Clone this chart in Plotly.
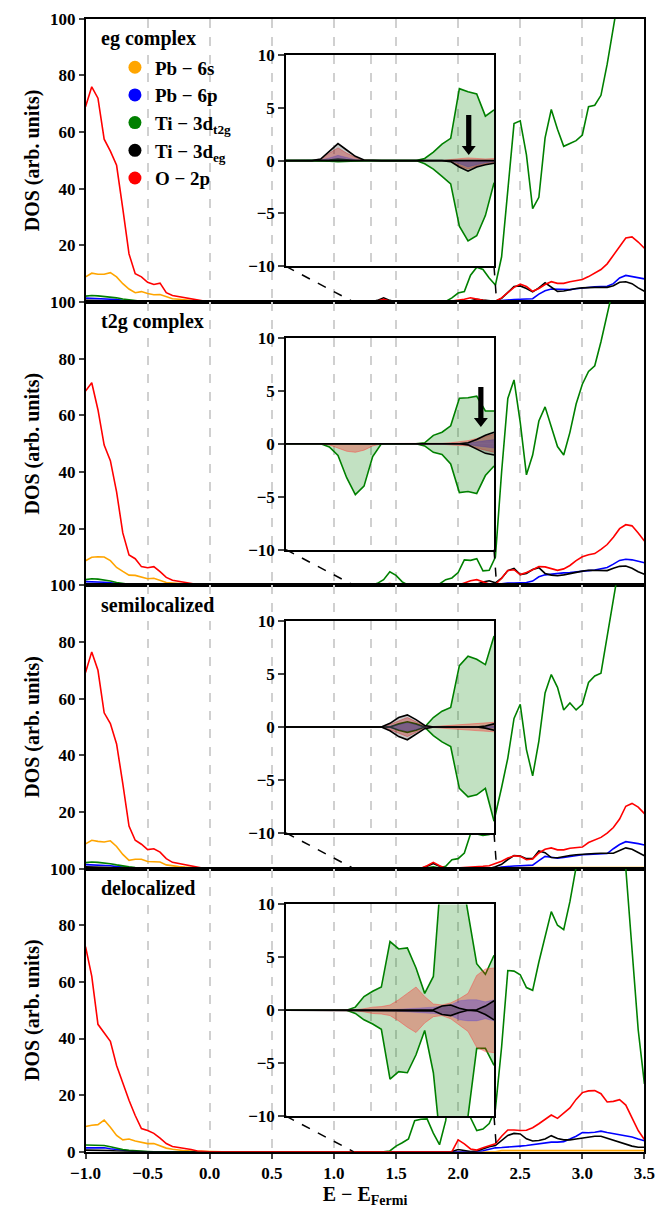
import plotly.graph_objects as go

# ---------------- data ----------------
E = [round(-1.0 + 0.05 * i, 2) for i in range(91)]      # main energy grid
EI = [round(1.1 + 0.05 * i, 2) for i in range(25)]      # inset energy grid

MID_ZEROS = [0, 0, 0, 0, 0, 0, 0, 0, 0, 0, 0, 0, 0, 0, 0, 0, 0, 0, 0, 0]
ORANGE_R = [0, 0, 0, 0, 0, 0, 0, 0, 0, 0, 0, 0, 0, 0, 0, 0, 0, 0, 0, 0, 0, 0, 0, 0, 0, 0,
            0.4, 0.4, 0.4, 0.4, 0.4, 0.4, 0.4, 0.4, 0.4, 0.4, 0.4, 0.4, 0.4, 0.4, 0.4, 0.4,
            0.4, 0.4, 0.4, 0.4, 0.4, 0.4, 0.4, 0.4]

# panel 1 : eg complex
P1_OR_L = [8.9, 10.2, 9.8, 9.8, 10.4, 8.9, 6.5, 4.6, 3.3, 3.7, 3.0, 2.6, 2.7, 2.0, 1.2, 1.0, 0.8, 0.6, 0.3, 0.1, 0]
P1_BL_L = [1.4, 1.3, 1.2, 1.3, 1.2, 0.9, 0.6, 0.4, 0.2, 0.1, 0, 0, 0, 0, 0, 0, 0, 0, 0, 0, 0]
P1_GR_L = [2.1, 2.3, 2.2, 2.0, 1.8, 1.5, 1.1, 0.8, 0.5, 0.3, 0.2, 0.1, 0, 0, 0, 0, 0, 0, 0, 0, 0]
P1_BK_L = [0.6, 0.6, 0.5, 0.5, 0.4, 0.3, 0.2, 0.1, 0, 0, 0, 0, 0, 0, 0, 0, 0, 0, 0, 0, 0]
P1_RD_L = [69, 76, 72, 57.5, 53.3, 48.3, 33, 17, 10, 8.9, 7, 6.2, 6.7, 3.3, 2.3, 1.9, 1.6, 1.2, 0.6, 0.2, 0]
P1_BL_R = [0, 0, 0, 0, 0, 0, 0, 0, 0, 0, 0, 0, 0, 0, 0, 0, 0, 0, 0, 0, 0, 0, 0, 0, 0,
           0.2, 0.5, 0.8, 0.9, 1.0, 1.1, 1.2, 2.8, 4.0, 4.6, 4.6, 4.4, 4.4, 4.7, 5.0, 5.2, 5.4, 5.5, 5.6,
           6.5, 8.5, 9.4, 9.0, 8.5, 8.2]
P1_GR_R = [0, 0, 0, 0, 0, 0, 0, 0.5, 0.2, 0, 0, 0, 0, 0, 0, 0, 0,
           0.2, 1.5, 3.2, 3.7, 9.5, 12.3, 11.5, 8.5, 6,
           16, 39, 63, 64, 52, 33, 37, 58, 68, 61, 55, 56, 57, 59, 69, 69.5, 73, 84, 98, 110, 120, 125, 125, 120]
P1_BK_R = [0, 0, 0, 0, 0, 0, 0.6, 1.5, 0.6, 0, 0, 0, 0, 0, 0, 0, 0, 0, 0, 0, 0, 0.5, 1.0, 0.7, 0.4,
           0.3, 1.3, 3.5, 5.5, 5.7, 4.8, 3.6, 5.0, 6.8, 5.3, 3.8, 3.9, 4.4, 4.8, 5.0, 5.2, 5.2, 5.2, 5.2,
           5.8, 7.0, 7.2, 6.5, 5.0, 3.8]
P1_RD_R = [0, 0, 0, 0, 0, 0, 0.4, 1.0, 0.4, 0, 0, 0, 0, 0, 0, 0, 0, 0, 0.4, 0.6, 1.0, 1.5, 1.0, 0.6, 0.4,
           0.3, 1.5, 3.5, 5.2, 6.3, 5.5, 3.8, 4.8, 6.2, 7.2, 6.6, 6.6, 7.2, 7.5, 8.0, 9.0, 10.2, 11.5, 13.5,
           16.5, 19.5, 22.6, 23, 21.2, 19]

# panel 2 : t2g complex
P2_OR_L = [8.7, 9.9, 10.1, 10.0, 8.7, 6.3, 4.9, 3.6, 3.5, 3.0, 2.3, 2.5, 1.8, 1.0, 0.8, 0.6, 0.5, 0.3, 0.2, 0.1, 0]
P2_BL_L = [1.3, 1.3, 1.2, 1.1, 0.9, 0.6, 0.4, 0.2, 0.1, 0, 0, 0, 0, 0, 0, 0, 0, 0, 0, 0, 0]
P2_GR_L = [2.0, 2.3, 2.2, 1.9, 1.5, 1.0, 0.6, 0.4, 0.2, 0.1, 0, 0, 0, 0, 0, 0, 0, 0, 0, 0, 0]
P2_BK_L = [0.5, 0.5, 0.5, 0.4, 0.3, 0.2, 0.1, 0, 0, 0, 0, 0, 0, 0, 0, 0, 0, 0, 0, 0, 0]
P2_RD_L = [68.6, 71.5, 62, 49.5, 44, 33, 18.5, 10.7, 9.4, 6.6, 6.2, 6.6, 4.8, 2.8, 1.8, 1.4, 1.0, 0.6, 0.3, 0.1, 0]
P2_BL_R = [0, 0, 0, 0, 0, 0, 0, 0, 0, 0, 0, 0, 0, 0, 0, 0, 0, 0, 0, 0, 0, 0, 0, 0, 0,
           0.1, 0.5, 0.8, 0.8, 0.9, 1.0, 1.5, 3.0, 3.7, 4.0, 4.3, 4.4, 4.5, 4.8, 5.0, 5.2, 5.4, 5.8, 6.3,
           7.5, 8.8, 9.2, 9.0, 8.5, 8.0]
P2_GR_R = [0, 0, 0, 0, 0, 0, 0.7, 2.0, 4.8, 3.5, 1.2, 0, 0, 0, 0, 0, 0.5,
           2.0, 2.6, 4.5, 9.0, 8.8, 9.4, 5.1, 5.3, 10,
           40, 66, 72.5, 57.5, 39, 46, 58, 63, 56, 49, 46, 54, 64, 71, 75.5, 77.5, 86, 96, 106, 115, 122, 128, 130, 130]
P2_BK_R = [0, 0, 0, 0, 0, 0, 0, 0.3, 0.5, 0.2, 0, 0, 0, 0, 0, 0, 0, 0, 0, 0, 0, 0.1, 0.4, 1.2, 1.6,
           0.9, 2.5, 5.2, 6.0, 3.8, 4.2, 5.6, 6.2, 4.2, 3.6, 3.4, 3.7, 4.2, 4.6, 5.0, 5.3, 5.3, 5.1, 5.2,
           6.0, 6.7, 6.8, 6.0, 4.8, 3.9]
P2_RD_R = [0, 0, 0, 0, 0, 0, 0, 0.4, 0.6, 0.4, 0.2, 0, 0, 0, 0, 0, 0, 0, 0, 0, 0.8, 1.6, 2.0, 1.2, 0.5,
           0.3, 2.5, 5.2, 5.5, 3.8, 4.5, 5.5, 6.6, 6.5, 6.0, 5.3, 5.8, 7.0, 8.7, 10.1, 10.8, 11.2, 12.7, 14.4,
           17, 20, 21.4, 21, 18.5, 15.6]

# panel 3 : semilocalized
P3_OR_L = [8.7, 10.0, 9.6, 9.4, 9.8, 7.8, 5.0, 2.9, 3.3, 3.3, 2.5, 2.4, 2.3, 1.3, 0.9, 0.7, 0.5, 0.3, 0.2, 0.1, 0]
P3_BL_L = [1.4, 1.3, 1.2, 1.2, 1.0, 0.7, 0.5, 0.3, 0.1, 0, 0, 0, 0, 0, 0, 0, 0, 0, 0, 0, 0]
P3_GR_L = [2.1, 2.3, 2.2, 2.0, 1.7, 1.3, 0.9, 0.6, 0.4, 0.2, 0.1, 0, 0, 0, 0, 0, 0, 0, 0, 0, 0]
P3_BK_L = [0.6, 0.6, 0.5, 0.5, 0.4, 0.3, 0.2, 0.1, 0, 0, 0, 0, 0, 0, 0, 0, 0, 0, 0, 0, 0]
P3_RD_L = [69.2, 76.5, 70, 55, 51.2, 44, 30, 15, 10, 8.6, 6.7, 7.0, 5.8, 3.5, 2.2, 1.8, 1.4, 0.9, 0.4, 0.1, 0]
P3_BL_R = [0, 0, 0, 0, 0, 0, 0, 0, 0, 0, 0, 0, 0, 0, 0, 0, 0, 0, 0, 0, 0, 0, 0, 0, 0,
           0.1, 0.5, 0.8, 0.9, 1.0, 1.1, 1.2, 2.8, 4.3, 4.0, 3.7, 3.9, 4.3, 4.7, 4.9, 5.0, 5.1, 5.2, 5.3,
           7.0, 8.5, 9.5, 9.2, 8.8, 8.3]
P3_GR_R = [0, 0, 0, 0, 0, 0, 0, 0, 0, 0, 0, 0, 0, 0, 0.3, 0.6, 0.2,
           0.8, 3.1, 3.5, 5.5, 12.3, 12.2, 11.7, 12, 19,
           28.6, 39, 53, 58, 42, 32.7, 45, 62, 68.5, 64, 56, 58.5, 56, 58, 65.7, 68, 69, 83, 96, 108, 118, 125, 128, 128]
P3_BK_R = [0, 0, 0, 0, 0, 0, 0, 0, 0, 0, 0, 0, 0, 0, 0.8, 1.8, 0.8, 0.1, 0, 0, 0, 0, 0, 0, 0,
           0.6, 1.5, 3.2, 4.6, 4.4, 3.5, 3.5, 6.2, 5.6, 3.9, 3.8, 4.3, 4.6, 4.9, 5.1, 5.2, 5.3, 5.4, 5.4,
           5.4, 6.4, 7.3, 6.8, 5.6, 4.5]
P3_RD_R = [0, 0, 0, 0, 0, 0, 0, 0, 0, 0, 0, 0, 0, 0.1, 1.0, 2.2, 1.0, 0.1, 0.1, 0.2, 0.3, 0.5, 0.6, 0.8, 1.0,
           1.7, 2.6, 3.7, 4.5, 4.3, 3.1, 3.4, 5.5, 6.8, 7.3, 6.6, 6.6, 7.2, 7.3, 7.6, 9.2, 10, 11, 12.5,
           14.5, 17.5, 22, 23, 21.7, 19.4]

# panel 4 : delocalized
P4_OR_L = [8.9, 9.4, 9.6, 11.2, 8.7, 5.8, 4.2, 4.5, 3.8, 3.3, 2.9, 2.9, 2.0, 1.3, 0.9, 0.6, 0.4, 0.3, 0.2, 0.1, 0]
P4_BL_L = [1.4, 1.4, 1.4, 1.4, 1.1, 0.8, 0.5, 0.3, 0.1, 0, 0, 0, 0, 0, 0, 0, 0, 0, 0, 0, 0]
P4_GR_L = [2.4, 2.4, 2.3, 2.2, 1.8, 1.2, 0.8, 0.5, 0.3, 0.2, 0.1, 0, 0, 0, 0, 0, 0, 0, 0, 0, 0]
P4_BK_L = [0.6, 0.6, 0.5, 0.5, 0.4, 0.3, 0.2, 0.1, 0, 0, 0, 0, 0, 0, 0, 0, 0, 0, 0, 0, 0]
P4_RD_L = [72.4, 62, 45, 42, 39, 30.5, 24, 18.2, 12.8, 8.2, 7.5, 6.5, 4.8, 2.9, 1.9, 1.6, 1.3, 0.8, 0.3, 0.1, 0]
P4_BL_R = [0, 0, 0, 0, 0, 0, 0, 0, 0, 0, 0, 0, 0, 0, 0, 0, 0, 0, 0, 0, 0, 0, 0, 0.4, 1.0,
           1.4, 1.5, 1.6, 1.8, 2.0, 2.2, 2.5, 2.9, 3.3, 3.4, 3.4, 3.6, 4.5, 5.5, 6.8, 6.7, 6.9, 7.3, 6.8,
           6.4, 6.1, 5.8, 5.2, 4.5, 3.9]
P4_GR_R = [0, 0, 0, 0, 0, 0, 0, 0,
           0.3, 2.0, 3.2, 4.5, 11, 11.5, 11.6, 6.6, 2.5, 11, 30, 40, 30, 12, 7.5, 8.0, 10, 15,
           37, 64, 63.8, 62.5, 58, 57, 67, 76, 84.8, 80, 78.4, 88.3, 102, 115, 125, 130, 130, 125, 118, 110,
           100, 70, 43, 24]
P4_BK_R = [0, 0, 0, 0, 0, 0, 0, 0, 0, 0, 0, 0, 0, 0, 0, 0, 0, 0, 0.1, 0.8, 0.4, 0.1, 0.3, 1.0, 1.8,
           2.2, 4.0, 5.8, 6.5, 6.3, 4.6, 3.8, 4.0, 4.5, 5.7, 4.7, 4.2, 4.2, 4.5, 4.9, 5.1, 5.5, 5.5, 4.8,
           4.2, 3.3, 2.6, 2.0, 1.6, 1.6]
P4_RD_R = [0, 0, 0, 0, 0, 0, 0, 0, 0, 0, 0, 0, 0, 0, 0, 0.2, 0.2, 0.1, 0.1, 4.2, 2.8, 1.0, 0.6, 1.4, 2.1,
           2.8, 5.5, 7.7, 7.7, 7.5, 7.6, 8.5, 9.9, 11.5, 13, 11.8, 13.5, 15.5, 18.5, 20.9, 21.5, 21.6, 20.5,
           17.6, 17.8, 18.4, 16.5, 12, 7.5, 4.3]

# insets: spin up (positive) and spin down (negative) on grid EI
I1_GR_UP = [0, 0, 0, 0, 0, 0.05, 0.15, 0.05, 0, 0, 0, 0, 0, 0, 0, 0, 0.2, 0.8, 1.55, 2.1, 6.8, 6.5, 6.3, 4.2, 4.8]
I1_GR_DN = [0, 0, 0, 0, 0, -0.05, -0.1, -0.05, 0, 0, 0, 0, 0, 0, 0, 0, -0.3, -0.8, -1.5, -2.2, -6.2, -7.6, -7.1, -5.2, -2.1]
I1_RD_UP = [0, 0, 0, 0, 0.1, 0.7, 1.2, 0.7, 0.3, 0.05, 0, 0, 0, 0, 0, 0, 0, 0, 0, 0.1, 0.2, 0.25, 0.2, 0.15, 0.2]
I1_RD_DN = [0, 0, 0, 0, 0, 0, 0, 0, 0, 0, 0, 0, 0, 0, 0, 0, 0, 0, 0, -0.1, -0.5, -0.8, -0.5, -0.3, -0.2]
I1_BL_UP = [0, 0, 0, 0, 0.05, 0.25, 0.5, 0.3, 0.1, 0, 0, 0, 0, 0, 0, 0, 0, 0, 0, 0, 0, 0, 0, 0, 0]
I1_BL_DN = [0, 0, 0, 0, 0, 0, 0, 0, 0, 0, 0, 0, 0, 0, 0, 0, 0, 0, 0, 0, -0.3, -0.6, -0.4, -0.2, -0.1]
I1_BK_UP = [0, 0, 0, 0, 0.15, 0.9, 1.6, 1.0, 0.4, 0.05, 0, 0, 0, 0, 0, 0, 0, 0, 0, 0, 0, 0, 0, 0, 0]
I1_BK_DN = [0, 0, 0, 0, 0, 0, 0, 0, 0, 0, 0, 0, 0, 0, 0, 0, 0, 0, 0, -0.1, -0.6, -1.0, -0.6, -0.4, -0.25]

I2_GR_UP = [0, 0, 0, 0, 0, 0, 0, 0, 0, 0, 0, 0, 0, 0, 0, 0, 0.1, 0.8, 1.1, 1.7, 4.3, 4.35, 4.5, 3.1, 3.1]
I2_GR_DN = [0, 0, 0, 0, 0, -0.3, -1.1, -3.2, -4.8, -4.0, -1.2, 0, 0, 0, 0, 0, -0.2, -0.8, -1.0, -1.9, -4.6, -4.5, -4.7, -3.0, -2.1]
I2_RD_UP = [0, 0, 0, 0, 0, 0, 0, 0, 0, 0, 0, 0, 0, 0, 0, 0, 0, 0, 0.05, 0.1, 0.2, 0.3, 0.5, 0.7, 0.9]
I2_RD_DN = [0, 0, 0, 0, 0, -0.1, -0.4, -0.7, -0.8, -0.6, -0.2, 0, 0, 0, 0, 0, 0, 0, -0.05, -0.1, -0.15, -0.2, -0.4, -0.6, -0.8]
I2_BL_UP = [0, 0, 0, 0, 0, 0, 0, 0, 0, 0, 0, 0, 0, 0, 0, 0, 0, 0, 0, 0, 0, 0.05, 0.2, 0.3, 0.4]
I2_BL_DN = [0, 0, 0, 0, 0, 0, 0, 0, 0, 0, 0, 0, 0, 0, 0, 0, 0, 0, 0, 0, 0, -0.05, -0.2, -0.3, -0.4]
I2_BK_UP = [0, 0, 0, 0, 0, 0, 0, 0, 0, 0, 0, 0, 0, 0, 0, 0, 0, 0, 0, 0, 0, 0.1, 0.4, 0.8, 1.1]
I2_BK_DN = [0, 0, 0, 0, 0, 0, 0, 0, 0, 0, 0, 0, 0, 0, 0, 0, 0, 0, 0, 0, 0, -0.1, -0.5, -0.9, -1.05]

I3_GR_UP = [0, 0, 0, 0, 0, 0, 0, 0, 0, 0, 0, 0, 0, 0.3, 0.5, 0.3, 0, 0.9, 1.5, 1.85, 5.8, 6.7, 6.4, 5.9, 8.6]
I3_GR_DN = [0, 0, 0, 0, 0, 0, 0, 0, 0, 0, 0, 0, 0, -0.3, -0.5, -0.3, 0, -0.8, -1.4, -1.85, -5.8, -6.6, -6.4, -5.8, -8.9]
I3_RD_UP = [0, 0, 0, 0, 0, 0, 0, 0, 0, 0, 0, 0, 0.25, 0.6, 0.9, 0.5, 0.1, 0.05, 0.1, 0.15, 0.2, 0.25, 0.3, 0.35, 0.45]
I3_RD_DN = [0, 0, 0, 0, 0, 0, 0, 0, 0, 0, 0, 0, -0.25, -0.6, -0.9, -0.5, -0.1, -0.05, -0.1, -0.15, -0.2, -0.25, -0.3, -0.35, -0.45]
I3_BL_UP = [0, 0, 0, 0, 0, 0, 0, 0, 0, 0, 0, 0, 0.1, 0.25, 0.4, 0.25, 0.05, 0, 0, 0, 0, 0, 0, 0.05, 0.1]
I3_BL_DN = [0, 0, 0, 0, 0, 0, 0, 0, 0, 0, 0, 0, -0.1, -0.25, -0.4, -0.25, -0.05, 0, 0, 0, 0, 0, 0, -0.05, -0.1]
I3_BK_UP = [0, 0, 0, 0, 0, 0, 0, 0, 0, 0, 0, 0, 0.35, 0.9, 1.15, 0.7, 0.15, 0, 0, 0, 0, 0, 0, 0.1, 0.3]
I3_BK_DN = [0, 0, 0, 0, 0, 0, 0, 0, 0, 0, 0, 0, -0.35, -0.9, -1.2, -0.7, -0.15, 0, 0, 0, 0, 0, 0, -0.1, -0.3]

I4_GR_UP = [0, 0, 0, 0, 0, 0, 0, 0, 0.3, 1.3, 1.8, 2.2, 6.5, 5.8, 5.9, 4.0, 1.6, 3.2, 14, 16, 14, 9, 4.4, 3.4, 5.2]
I4_GR_DN = [0, 0, 0, 0, 0, 0, 0, 0, -0.3, -0.9, -1.3, -1.8, -6.5, -5.8, -5.9, -4.2, -1.9, -5.9, -14, -16, -14, -10, -3.6, -3.6, -5.2]
I4_RD_UP = [0, 0, 0, 0, 0, 0, 0, 0, 0.05, 0.15, 0.3, 0.35, 0.5, 1.0, 1.6, 2.2, 1.3, 0.6, 0.5, 0.7, 1.1, 1.6, 3.3, 3.9, 4.0]
I4_RD_DN = [0, 0, 0, 0, 0, 0, 0, 0, -0.05, -0.15, -0.3, -0.35, -0.5, -1.0, -1.6, -2.1, -1.2, -0.6, -0.5, -0.8, -1.4, -2.0, -3.5, -3.9, -4.0]
I4_BL_UP = [0, 0, 0, 0, 0, 0, 0, 0, 0, 0, 0, 0, 0.05, 0.1, 0.15, 0.2, 0.2, 0.3, 0.4, 0.5, 0.9, 1.0, 1.0, 0.8, 1.0]
I4_BL_DN = [0, 0, 0, 0, 0, 0, 0, 0, 0, 0, 0, 0, -0.05, -0.1, -0.15, -0.2, -0.2, -0.3, -0.4, -0.5, -0.9, -1.0, -1.0, -0.8, -1.0]
I4_BK_UP = [0, 0, 0, 0, 0, 0, 0, 0, 0, 0, 0, 0, 0, 0, 0, 0, 0, 0.05, 0.4, 0.5, 0.2, 0.0, 0.05, 0.4, 0.9]
I4_BK_DN = [0, 0, 0, 0, 0, 0, 0, 0, 0, 0, 0, 0, 0, 0, 0, 0, 0, -0.05, -0.4, -0.5, -0.2, 0.0, -0.05, -0.4, -0.9]

PANEL_TITLES = ["eg complex", "t2g complex", "semilocalized", "delocalized"]
LEGEND_LABELS = ["Pb − 6s", "Pb − 6p", "Ti − 3d<sub>t2g</sub>", "Ti − 3d<sub>eg</sub>", "O − 2p"]
X_TICKS = [-1.0, -0.5, 0.0, 0.5, 1.0, 1.5, 2.0, 2.5, 3.0, 3.5]
Y_TICKS = [0, 20, 40, 60, 80, 100]
Y_TICKS_UPPER = [20, 40, 60, 80, 100]         # the 0 of upper panels sits under the "100" below
INSET_Y_TICKS = [-10, -5, 0, 5, 10]
INSET_GRID_MAIN = [1.0, 1.3, 1.5, 2.0]       # dashed guide lines inside the insets (main-axis x)
CONNECT_END = [1.16, 2.31]                   # where the dashed zoom connectors meet y = 0
ARROW_X = [2.154, 2.224]                     # black arrows in insets 1 and 2
ARROW_TIP = [0.53, 1.6]

MAIN = [
    dict(orange=P1_OR_L + MID_ZEROS + ORANGE_R, blue=P1_BL_L + MID_ZEROS + P1_BL_R,
         green=P1_GR_L + MID_ZEROS + P1_GR_R, black=P1_BK_L + MID_ZEROS + P1_BK_R,
         red=P1_RD_L + MID_ZEROS + P1_RD_R),
    dict(orange=P2_OR_L + MID_ZEROS + ORANGE_R, blue=P2_BL_L + MID_ZEROS + P2_BL_R,
         green=P2_GR_L + MID_ZEROS + P2_GR_R, black=P2_BK_L + MID_ZEROS + P2_BK_R,
         red=P2_RD_L + MID_ZEROS + P2_RD_R),
    dict(orange=P3_OR_L + MID_ZEROS + ORANGE_R, blue=P3_BL_L + MID_ZEROS + P3_BL_R,
         green=P3_GR_L + MID_ZEROS + P3_GR_R, black=P3_BK_L + MID_ZEROS + P3_BK_R,
         red=P3_RD_L + MID_ZEROS + P3_RD_R),
    dict(orange=P4_OR_L + MID_ZEROS + ORANGE_R, blue=P4_BL_L + MID_ZEROS + P4_BL_R,
         green=P4_GR_L + MID_ZEROS + P4_GR_R, black=P4_BK_L + MID_ZEROS + P4_BK_R,
         red=P4_RD_L + MID_ZEROS + P4_RD_R),
]
INSETS = [
    dict(gu=I1_GR_UP, gd=I1_GR_DN, ru=I1_RD_UP, rd=I1_RD_DN, bu=I1_BL_UP, bd=I1_BL_DN, ku=I1_BK_UP, kd=I1_BK_DN),
    dict(gu=I2_GR_UP, gd=I2_GR_DN, ru=I2_RD_UP, rd=I2_RD_DN, bu=I2_BL_UP, bd=I2_BL_DN, ku=I2_BK_UP, kd=I2_BK_DN),
    dict(gu=I3_GR_UP, gd=I3_GR_DN, ru=I3_RD_UP, rd=I3_RD_DN, bu=I3_BL_UP, bd=I3_BL_DN, ku=I3_BK_UP, kd=I3_BK_DN),
    dict(gu=I4_GR_UP, gd=I4_GR_DN, ru=I4_RD_UP, rd=I4_RD_DN, bu=I4_BL_UP, bd=I4_BL_DN, ku=I4_BK_UP, kd=I4_BK_DN),
]

# ---------------- styling / geometry ----------------
FONT = "Liberation Serif"
COLORS = dict(orange="#FFA500", blue="#0000FF", green="#008000", black="#000000", red="#FF0000")
FIG_W, FIG_H = 666, 1212
AX_L, AX_R = 73.4, 655.0
PANEL_TOP, PANEL_H = 10.0, 287.75
IN_L, IN_R = 282.0, 498.5
IN_T, IN_B = 36.5, 251.5
XMIN, XMAX = -1.0, 3.5
IXMIN, IXMAX = 1.1, 2.3
TICK_FS, TITLE_FS, LEG_FS, PANEL_FS = 17, 20, 19, 20


def px_to_main_x(px):
    return XMIN + (px - AX_L) / (AX_R - AX_L) * (XMAX - XMIN)


INSET_MAIN_L = px_to_main_x(IN_L)
INSET_MAIN_R = px_to_main_x(IN_R)
INSET_MAIN_BOTTOM = (PANEL_H - IN_B) / PANEL_H * 100.0
INSET_GRID = [IXMIN + (m - INSET_MAIN_L) / (INSET_MAIN_R - INSET_MAIN_L) * (IXMAX - IXMIN)
              for m in INSET_GRID_MAIN]

fig = go.Figure()
layout = dict(width=FIG_W, height=FIG_H, margin=dict(l=0, r=0, t=0, b=0),
              paper_bgcolor="white", plot_bgcolor="white",
              font=dict(family=FONT, size=TICK_FS, color="black", weight="bold"),
              showlegend=True)
shapes, annotations = [], []


def ax_name(kind, n):
    return kind + ("axis" if n == 1 else "axis%d" % n)


def ref(kind, n):
    return kind if n == 1 else "%s%d" % (kind, n)


for k in range(4):
    top = PANEL_TOP + k * PANEL_H
    bot = top + PANEL_H
    m, ins = k + 1, k + 5
    xm, ym, xi, yi = ref("x", m), ref("y", m), ref("x", ins), ref("y", ins)

    # main traces
    for key in ["orange", "blue", "green", "black", "red"]:
        fig.add_trace(go.Scatter(x=E, y=MAIN[k][key], mode="lines", xaxis=xm, yaxis=ym,
                                 line=dict(color=COLORS[key], width=1.6), showlegend=False,
                                 hoverinfo="skip"))

    # inset traces
    d = INSETS[k]
    fills = [("gu", "rgba(0,128,0,0.24)", dict(color="#008000", width=1.6)),
             ("gd", "rgba(0,128,0,0.24)", dict(color="#008000", width=1.6)),
             ("ru", "rgba(255,0,0,0.28)", dict(color="rgba(255,60,60,0.45)", width=1)),
             ("rd", "rgba(255,0,0,0.28)", dict(color="rgba(255,60,60,0.45)", width=1)),
             ("bu", "rgba(0,0,255,0.25)", dict(color="rgba(0,0,255,0.3)", width=0.5)),
             ("bd", "rgba(0,0,255,0.25)", dict(color="rgba(0,0,255,0.3)", width=0.5)),
             ("ku", "rgba(0,0,0,0.22)", dict(color="#000000", width=1.6)),
             ("kd", "rgba(0,0,0,0.22)", dict(color="#000000", width=1.6))]
    for key, fc, ln in fills:
        fig.add_trace(go.Scatter(x=EI, y=d[key], mode="lines", fill="tozeroy", fillcolor=fc,
                                 line=ln, xaxis=xi, yaxis=yi, showlegend=False, hoverinfo="skip"))

    dom_main_y = [1 - bot / FIG_H, 1 - top / FIG_H]
    dom_in_y = [1 - (top + IN_B) / FIG_H, 1 - (top + IN_T) / FIG_H]

    xax = dict(
        domain=[AX_L / FIG_W, AX_R / FIG_W], range=[XMIN, XMAX], tickvals=X_TICKS,
        showticklabels=(k == 3), ticks="outside" if k == 3 else "", ticklen=5, tickwidth=1.5,
        tickformat=".1f", tickfont=dict(family=FONT, size=TICK_FS, weight="bold"),
        showgrid=True, gridcolor="#d0d0d0", gridwidth=1.5, griddash="dash", zeroline=False,
        showline=True, linecolor="black", linewidth=1.5, mirror=True, anchor=ym)
    if k == 3:
        xax["title"] = dict(text="E − E<sub>Fermi</sub>",
                            font=dict(family=FONT, size=TITLE_FS, weight="bold"), standoff=4)
    layout[ax_name("x", m)] = xax
    layout[ax_name("y", m)] = dict(
        domain=dom_main_y, range=[0, 100], tickvals=Y_TICKS if k == 3 else Y_TICKS_UPPER,
        ticks="outside", ticklen=5, tickwidth=1.5,
        tickfont=dict(family=FONT, size=TICK_FS, weight="bold"),
        showgrid=False, zeroline=False, showline=True, linecolor="black", linewidth=1.5,
        mirror=True, anchor=xm,
        title=dict(text="DOS (arb. units)", font=dict(family=FONT, size=TITLE_FS, weight="bold"),
                   standoff=5))
    layout[ax_name("x", ins)] = dict(
        domain=[IN_L / FIG_W, IN_R / FIG_W], range=[IXMIN, IXMAX], tickvals=INSET_GRID,
        showticklabels=False, ticks="", showgrid=True, gridcolor="#d0d0d0", gridwidth=1.5,
        griddash="dash", zeroline=False, showline=True, linecolor="black", linewidth=1.5,
        mirror=True, anchor=yi)
    layout[ax_name("y", ins)] = dict(
        domain=dom_in_y, range=[-10, 10], tickvals=INSET_Y_TICKS, ticks="outside", ticklen=6,
        tickwidth=1.5, tickfont=dict(family=FONT, size=TICK_FS, weight="bold"),
        showgrid=False, zeroline=False, showline=True, linecolor="black", linewidth=1.5,
        mirror=True, anchor=xi)

    # opaque inset background
    shapes.append(dict(type="rect", xref=xi, yref=yi, x0=IXMIN, x1=IXMAX, y0=-10, y1=10,
                       fillcolor="white", line=dict(width=0), layer="below"))
    # dashed zoom connectors
    shapes.append(dict(type="line", xref=xm, yref=ym, x0=INSET_MAIN_L, y0=INSET_MAIN_BOTTOM,
                       x1=CONNECT_END[0], y1=0, line=dict(color="black", width=1.5, dash="dash"),
                       layer="above"))
    shapes.append(dict(type="line", xref=xm, yref=ym, x0=INSET_MAIN_R, y0=INSET_MAIN_BOTTOM,
                       x1=CONNECT_END[1], y1=0, line=dict(color="black", width=1.5, dash="dash"),
                       layer="above"))
    # arrows
    if k < 2:
        shapes.append(dict(type="path", xref=xi, yref=yi, xsizemode="pixel", ysizemode="pixel",
                           xanchor=ARROW_X[k], yanchor=ARROW_TIP[k],
                           path="M0,0 L-7,9 L-2.6,9 L-2.6,40 L2.6,40 L2.6,9 L7,9 Z",
                           fillcolor="black", line=dict(width=0), layer="above"))
    # panel title
    annotations.append(dict(text=PANEL_TITLES[k], xref="paper", yref="paper", x=87 / FIG_W,
                            y=1 - (top + 20) / FIG_H, xanchor="left", yanchor="middle",
                            showarrow=False, font=dict(family=FONT, size=PANEL_FS, weight="bold")))

# legend entries (circle markers)
for key, lab in zip(["orange", "blue", "green", "black", "red"], LEGEND_LABELS):
    fig.add_trace(go.Scatter(x=[None], y=[None], mode="markers", name=lab, xaxis="x", yaxis="y",
                             marker=dict(size=13, color=COLORS[key]), showlegend=True))

layout["legend"] = dict(x=104 / FIG_W, y=1 - 40 / FIG_H, xanchor="left", yanchor="top",
                        bgcolor="rgba(0,0,0,0)", font=dict(family=FONT, size=LEG_FS, weight="bold"),
                        itemwidth=30, tracegroupgap=0)
layout["shapes"] = shapes
layout["annotations"] = annotations
fig.update_layout(**layout)
fig.write_html("out.html", config={"displayModeBar": False},
               post_script="document.body.style.margin='0px';")
